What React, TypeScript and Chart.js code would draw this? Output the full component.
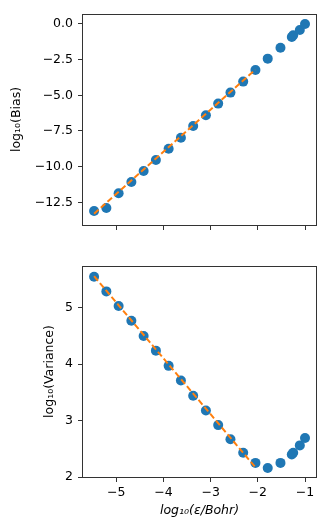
import React, { useEffect, useRef } from "react";
import { Chart, registerables } from "chart.js";

Chart.register(...registerables);

// ---- data ----
const epsLog = [-5.47, -5.21, -4.95, -4.68, -4.42, -4.16, -3.89, -3.63, -3.37, -3.1, -2.84, -2.58, -2.31, -2.05, -1.79, -1.52, -1.28, -1.25, -1.11, -1.0];
const biasLog = [-13.11, -12.9, -11.87, -11.07, -10.3, -9.53, -8.74, -7.97, -7.15, -6.4, -5.58, -4.81, -4.04, -3.22, -2.43, -1.66, -0.91, -0.79, -0.42, 0.0];
const varianceLog = [5.55, 5.29, 5.03, 4.77, 4.5, 4.24, 3.97, 3.71, 3.44, 3.18, 2.92, 2.67, 2.43, 2.25, 2.16, 2.25, 2.4, 2.43, 2.56, 2.69];
const fitX = [-5.47, -2.05];
const biasFit = [-13.3, -3.2];
const varianceFit = [5.56, 2.17];

const xTicks = [-5, -4, -3, -2, -1];
const biasTicks = [-12.5, -10, -7.5, -5, -2.5, 0];
const varianceTicks = [2, 3, 4, 5];

const xRange = [-5.705, -0.767];
const biasRange = [-14.09, 0.7];
const varianceRange = [2.0, 5.74];

const biasTitle = "log\u2081\u2080(Bias)";
const varianceTitle = "log\u2081\u2080(Variance)";
const xTitle = "log\u2081\u2080(\u03b5/Bohr)";

const FONT = "'DejaVu Sans', sans-serif";
const FS = 12.5;
const BLUE = "#1f77b4";
const ORANGE = "#ff7f0e";
const SPINE = "#333333";

const minus = (s: string) => s.replace("-", "\u2212");

const framePlugin = {
  id: "frame",
  afterDraw(chart: any) {
    const { ctx, chartArea: a } = chart;
    ctx.save();
    ctx.strokeStyle = SPINE;
    ctx.lineWidth = 1;
    ctx.strokeRect(a.left - 0.5, a.top + 0.5, a.right - a.left + 1, a.bottom - a.top);
    ctx.restore();
  },
};

function toPts(xs: number[], ys: number[]) {
  return xs.map((x, i) => ({ x, y: ys[i] }));
}

function makeConfig(opts: {
  ys: number[];
  fit: number[];
  yRange: number[];
  yTicks: number[];
  yFmt: (v: number) => string;
  yTitle: string;
  yTitlePad: number;
  showXLabels: boolean;
  xAxisHeight: number;
  padTop: number;
}): any {
  return {
    type: "scatter",
    data: {
      datasets: [
        {
          type: "line",
          data: toPts(fitX, opts.fit),
          borderColor: ORANGE,
          borderWidth: 2,
          borderDash: [6, 3],
          pointRadius: 0,
          fill: false,
          order: 0,
        },
        {
          data: toPts(epsLog, opts.ys),
          backgroundColor: BLUE,
          borderWidth: 0,
          pointRadius: 5,
          order: 1,
        },
      ],
    },
    options: {
      animation: false,
      responsive: false,
      devicePixelRatio: 1,
      layout: { padding: { top: opts.padTop, right: 15, left: 0, bottom: 0 } },
      plugins: { legend: { display: false }, tooltip: { enabled: false } },
      scales: {
        x: {
          type: "linear",
          min: xRange[0],
          max: xRange[1],
          afterBuildTicks: (s: any) => {
            s.ticks = xTicks.map((v) => ({ value: v }));
          },
          afterFit: (s: any) => {
            s.height = opts.xAxisHeight;
          },
          grid: { drawOnChartArea: false, drawTicks: true, tickLength: 5, tickColor: SPINE, color: SPINE },
          border: { display: false },
          ticks: {
            display: opts.showXLabels,
            padding: 3.5,
            maxRotation: 0,
            autoSkip: false,
            color: "#000",
            font: { family: FONT, size: FS },
            callback: (v: any) => minus(String(v)),
          },
          title: {
            display: opts.showXLabels,
            text: xTitle,
            color: "#000",
            font: { family: FONT, size: FS, style: "italic" },
            padding: { top: 0, bottom: 12.5 },
          },
        },
        y: {
          type: "linear",
          min: opts.yRange[0],
          max: opts.yRange[1],
          afterBuildTicks: (s: any) => {
            s.ticks = opts.yTicks.map((v) => ({ value: v }));
          },
          afterFit: (s: any) => {
            s.width = 83;
          },
          grid: { drawOnChartArea: false, drawTicks: true, tickLength: 5, tickColor: SPINE, color: SPINE },
          border: { display: false },
          ticks: {
            padding: 5,
            autoSkip: false,
            color: "#000",
            font: { family: FONT, size: FS },
            callback: (v: any) => opts.yFmt(Number(v)),
          },
          title: {
            display: true,
            text: opts.yTitle,
            color: "#000",
            font: { family: FONT, size: FS },
            padding: { top: opts.yTitlePad, bottom: 0 },
          },
        },
      },
    },
    plugins: [framePlugin],
  };
}

function ChartCanvas({ config, width, height, top }: { config: any; width: number; height: number; top: number }) {
  const ref = useRef<HTMLCanvasElement | null>(null);
  useEffect(() => {
    if (!ref.current) return;
    const chart = new Chart(ref.current, config);
    return () => chart.destroy();
  }, [config]);
  return (
    <canvas
      ref={ref}
      width={width}
      height={height}
      style={{ position: "absolute", left: 0, top, width, height, display: "block" }}
    />
  );
}

const topConfig = makeConfig({
  ys: biasLog,
  fit: biasFit,
  yRange: biasRange,
  yTicks: biasTicks,
  yFmt: (v) => minus(v.toFixed(1)),
  yTitle: biasTitle,
  yTitlePad: 9,
  showXLabels: false,
  xAxisHeight: 25,
  padTop: 14,
});

const bottomConfig = makeConfig({
  ys: varianceLog,
  fit: varianceFit,
  yRange: varianceRange,
  yTicks: varianceTicks,
  yFmt: (v) => minus(String(v)),
  yTitle: varianceTitle,
  yTitlePad: 42.3,
  showXLabels: true,
  xAxisHeight: 54,
  padTop: 16,
});

export default function App() {
  return (
    <div style={{ position: "absolute", left: 0, top: 0, width: 331, height: 531, background: "#fff" }}>
      <ChartCanvas config={topConfig} width={331} height={250} top={0} />
      <ChartCanvas config={bottomConfig} width={331} height={281} top={250} />
    </div>
  );
}
